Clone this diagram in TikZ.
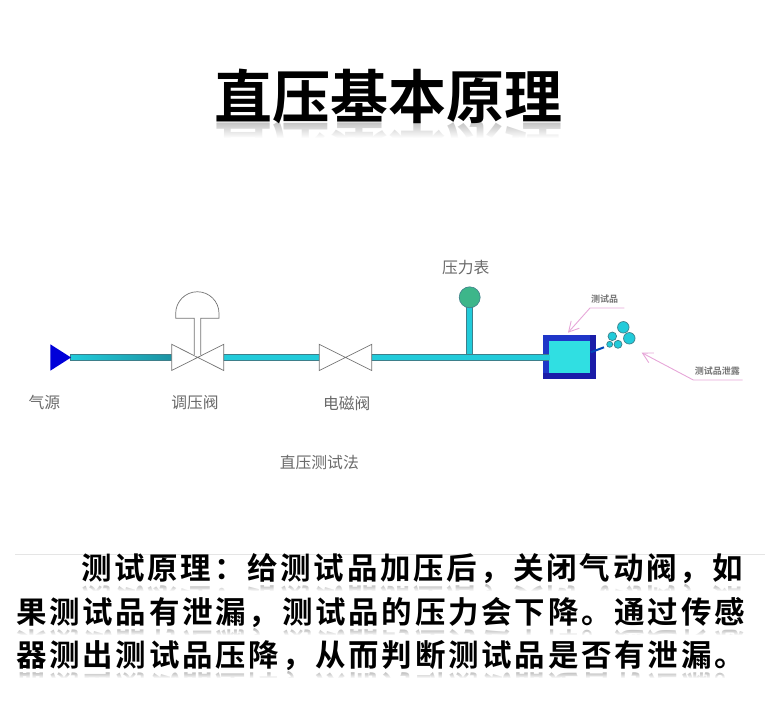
\documentclass[tikz,border=0pt]{standalone}
\usepackage{fontspec}
\usepackage{graphicx}
\usetikzlibrary{fadings,arrows.meta,shadings}
\setmainfont{Noto Sans CJK SC}
\newfontfamily\cjkreg{Noto Sans CJK SC}
\newfontfamily\cjktitle{Noto Sans CJK SC Bold}
\newfontfamily\cjkbody[LetterSpace=9]{Noto Sans CJK SC Bold}
\definecolor{pipefill}{HTML}{22CBDA}
\definecolor{pipeedge}{HTML}{3E7F8A}
\definecolor{pipedark}{HTML}{1B93A3}
\definecolor{boxblue}{HTML}{1F36C8}
\definecolor{boxdark}{HTML}{1A1CA8}
\definecolor{boxinner}{HTML}{30DFE2}
\definecolor{pinkline}{HTML}{E6A6D8}
\definecolor{labelgray}{HTML}{6A6A6A}
\definecolor{gaugegreen}{HTML}{3DB68A}
\newcommand{\titletext}{直压基本原理}
\newcommand{\lineA}{测试原理：给测试品加压后，关闭气动阀，如}
\newcommand{\lineB}{果测试品有泄漏，测试品的压力会下降。通过传感}
\newcommand{\lineC}{器测出测试品压降，从而判断测试品是否有泄漏。}
\tikzset{
  px/.style={x=1pt,y=-1pt},
  pipe/.style={fill=pipefill,draw=pipeedge,line width=.9pt},
  valvebody/.style={fill=white,draw=black!55,line width=.7pt,line join=miter},
  lab/.style={text=labelgray,font=\cjkreg\fontsize{15.8}{16}\selectfont,inner sep=0pt,anchor=center},
  tiny/.style={text=black!55,font=\cjktitle\fontsize{9}{9}\selectfont,inner sep=0pt,anchor=center},
  titlefont/.style={inner sep=0pt,font=\cjktitle\fontsize{58}{58}\selectfont},
  bodyline/.style={font=\cjkbody\fontsize{30.5}{30.5}\selectfont,inner sep=0pt,anchor=west,text=black},
  bubble/.style={fill=pipefill,draw=pipeedge,line width=.7pt},
  pinkarrow/.style={draw=pinkline,line width=.9pt,-{Straight Barb[length=10pt,width=11pt]}},
  coverfade/.style={fill=white,draw=none,path fading=north},
  coversolid/.style={fill=white,draw=none},
}
\begin{document}
\begin{tikzpicture}[px]
\useasboundingbox (0,0) rectangle (776,714);
% title reflection
\node[titlefont,text=black!25] (titlerefl) at (388.5,149) {\scalebox{1}[-1]{\titletext}};
\fill[coverfade] (200,121) rectangle (580,138);
\fill[coversolid] (200,138) rectangle (580,185);
\node[titlefont] (title) at (388.5,96) {\titletext};
% pipes
\path[pipe,left color=pipefill,right color=pipedark] (70,354.7) rectangle (172,360.7);
\path[pipe] (223.7,354.7) rectangle (319,360.7);
\path[pipe] (466.7,306) rectangle (472.7,354.7);
\path[pipe] (371.7,354.7) rectangle (549,360.7);
% source
\fill[fill=blue!85!black] (50.3,344.3) -- (71,357.5) -- (50.3,370.7) -- cycle;
% regulator
\path[valvebody] (171.7,344.3) -- (223.7,370.5) -- (223.7,344.3) -- (171.7,370.5) -- cycle;
\path[valvebody] (194.2,355) -- (194.2,318.3) -- (175.7,318.3) -- (175.7,313.4) arc[start angle=180,end angle=360,radius=21.65] -- (219,318.3) -- (200.7,318.3) -- (200.7,355);
\fill[white] (194.6,345) rectangle (200.3,355.5);
% solenoid valve
\path[valvebody] (319.3,344.3) -- (371.7,370.5) -- (371.7,344.3) -- (319.3,370.5) -- cycle;
% gauge
\node[circle,minimum size=21pt,inner sep=0pt,fill=gaugegreen,draw=pipeedge,line width=.6pt] (gauge) at (469.7,297.3) {};
% test piece
\fill[boxblue] (543.3,335.3) rectangle (596,379);
\fill[boxdark] (543.3,373.3) rectangle (596,379);
\fill[boxdark] (590,335.3) rectangle (596,379);
\fill[boxinner] (549.3,341.3) rectangle (590,373.3);
\path[pipe] (543.3,354.7) -- (549.3,354.7) (543.3,360.7) -- (549.3,360.7);
\fill[pipefill] (543.3,355.2) rectangle (549.6,360.2);
\coordinate (nozA) at (590.7,352.3);
\coordinate (nozB) at (604,347.3);
\draw[line width=2pt,color=blue!45!teal] (nozA) -- (nozB);
% bubbles
\node[circle,bubble,minimum size=11.5pt,inner sep=0pt] (b1) at (623.3,327.3) {};
\node[circle,bubble,minimum size=11.5pt,inner sep=0pt] (b2) at (629.3,338.3) {};
\node[circle,bubble,minimum size=8.6pt,inner sep=0pt] (b3) at (612.3,336.3) {};
\node[circle,bubble,minimum size=8pt,inner sep=0pt] (b4) at (618,344.3) {};
\node[circle,bubble,minimum size=6pt,inner sep=0pt] (b5) at (609.7,344.3) {};
% pink arrows
\coordinate (a1) at (624.3,308); \coordinate (a2) at (590,308); \coordinate (a3) at (568,332.7);
\draw[pinkarrow] (a1) -- (a2) -- (a3);
\coordinate (c1) at (742.7,380); \coordinate (c2) at (693.3,380); \coordinate (c3) at (641.7,352.7);
\draw[pinkarrow] (c1) -- (c2) -- (c3);
% labels
\node[lab] (l1) at (44.3,402.7) {气源};
\node[lab] (l2) at (195,402.7) {调压阀};
\node[lab] (l3) at (346.7,403) {电磁阀};
\node[lab] (l4) at (319.3,462.7) {直压测试法};
\node[lab] (l5) at (465.7,267.3) {压力表};
\node[tiny] (l6) at (604.7,299.3) {测试品};
\node[tiny] (l7) at (717.3,370.7) {测试品泄露};
% rule
\coordinate (r1) at (15,554.5); \coordinate (r2) at (765,554.5);
\draw[black!10,line width=.6pt] (r1) -- (r2);
% body reflections
\node[bodyline,text=black!30] (t1r) at (81,599) {\scalebox{1}[-1]{\lineA}};
\fill[coverfade] (10,584) rectangle (770,591);
\fill[coversolid] (10,591) rectangle (770,621);
\node[bodyline,text=black!30] (t2r) at (16,643) {\scalebox{1}[-1]{\lineB}};
\fill[coverfade] (10,628) rectangle (770,635);
\fill[coversolid] (10,635) rectangle (770,665);
\node[bodyline,text=black!30] (t3r) at (16,686) {\scalebox{1}[-1]{\lineC}};
\fill[coverfade] (10,671) rectangle (770,678);
\fill[coversolid] (10,678) rectangle (770,708);
% body
\node[bodyline] (t1) at (81,569) {\lineA};
\node[bodyline] (t2) at (16,612.5) {\lineB};
\node[bodyline] (t3) at (16,655.5) {\lineC};
\end{tikzpicture}
\end{document}
